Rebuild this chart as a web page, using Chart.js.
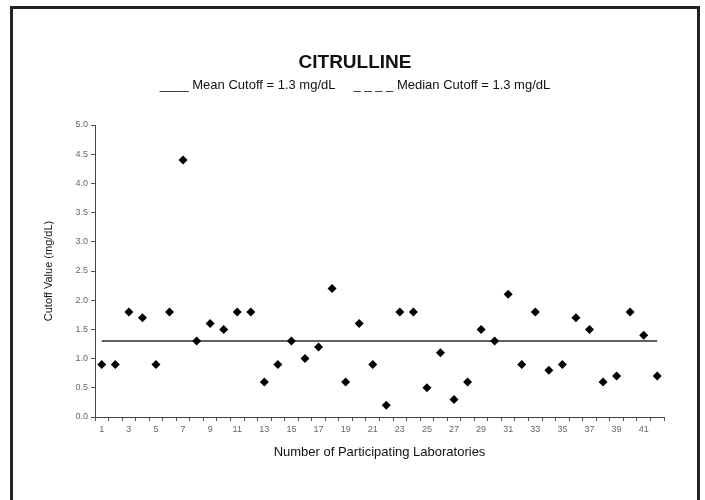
<!DOCTYPE html>
<html>
<head>
<meta charset="utf-8">
<script src="https://cdn.jsdelivr.net/npm/chart.js@4.4.0/dist/chart.umd.min.js"></script>
<style>
  html, body { margin: 0; padding: 0; background: #fff; }
  #wrap { position: relative; width: 705px; height: 500px; overflow: hidden; }
  #c { position: absolute; left: 0; top: 0; }
  #frame { position: absolute; left: 10px; top: 6px; width: 690px; height: 520px;
           box-sizing: border-box; border: 3px solid #232323; pointer-events: none; }
</style>
</head>
<body>
<div id="wrap">
  <canvas id="c" width="705" height="500"></canvas>
  <div id="frame"></div>
</div>
<script>
const chartTitle = 'CITRULLINE';
const legendText = '____ Mean Cutoff = 1.3 mg/dL     _ _ _ _ Median Cutoff = 1.3 mg/dL';
const xAxisTitle = 'Number of Participating Laboratories';
const yAxisTitle = 'Cutoff Value (mg/dL)';

const labs = ['1','2','3','4','5','6','7','8','9','10','11','12','13','14','15','16','17','18','19','20','21','22','23','24','25','26','27','28','29','30','31','32','33','34','35','36','37','38','39','40','41','42'];
const cutoffValues = [0.9,0.9,1.8,1.7,0.9,1.8,4.4,1.3,1.6,1.5,1.8,1.8,0.6,0.9,1.3,1.0,1.2,2.2,0.6,1.6,0.9,0.2,1.8,1.8,0.5,1.1,0.3,0.6,1.5,1.3,2.1,0.9,1.8,0.8,0.9,1.7,1.5,0.6,0.7,1.8,1.4,0.7];
const meanCutoff = 1.3;
const yMin = 0, yMax = 5, yStep = 0.5;

const FONT = '"Liberation Sans", Arial, sans-serif';

const headerPlugin = {
  id: 'header',
  afterDraw(chart) {
    const ctx = chart.ctx;
    ctx.save();
    ctx.fillStyle = '#111';
    ctx.textAlign = 'center';
    ctx.textBaseline = 'middle';
    ctx.font = 'bold 19px ' + FONT;
    ctx.fillText(chartTitle, 355, 63);
    ctx.font = '13px ' + FONT;
    ctx.fillText(legendText, 355, 85);
    ctx.restore();
  }
};

new Chart(document.getElementById('c'), {
  data: {
    labels: labs,
    datasets: [
      {
        type: 'line',
        label: 'Mean Cutoff',
        data: [{x: labs[0], y: meanCutoff}, {x: labs[labs.length - 1], y: meanCutoff}],
        borderColor: '#2a2a2a',
        borderWidth: 1.5,
        pointRadius: 0,
        fill: false,
        order: 2
      },
      {
        type: 'scatter',
        label: 'Cutoff Value',
        data: cutoffValues,
        pointStyle: 'rectRot',
        pointRadius: 4.5,
        backgroundColor: '#000',
        borderColor: '#000',
        borderWidth: 0,
        showLine: false,
        order: 1
      }
    ]
  },
  plugins: [headerPlugin],
  options: {
    responsive: false,
    animation: false,
    layout: { padding: { left: 38, right: 41, top: 125, bottom: 36 } },
    plugins: { legend: { display: false }, tooltip: { enabled: false }, title: { display: false } },
    scales: {
      x: {
        type: 'category',
        offset: true,
        grid: { display: true, offset: true, drawOnChartArea: false, drawTicks: true, tickLength: 4, color: '#555', tickColor: '#555' },
        border: { display: true, color: '#444', width: 1 },
        ticks: {
          autoSkip: false, maxRotation: 0, minRotation: 0,
          color: '#666', font: { family: FONT, size: 9 }, padding: 3,
          callback: function(val, idx) { return idx % 2 === 0 ? this.getLabelForValue(val) : ''; }
        },
        title: { display: true, text: xAxisTitle, color: '#111', font: { family: FONT, size: 13 }, padding: { top: 0, bottom: 4 } },
        afterFit(s) { s.height = 47; }
      },
      y: {
        type: 'linear',
        min: yMin, max: yMax,
        grid: { display: true, drawOnChartArea: false, drawTicks: true, tickLength: 4, color: '#555', tickColor: '#555' },
        border: { display: true, color: '#444', width: 1 },
        ticks: {
          stepSize: yStep, color: '#666', font: { family: FONT, size: 9 }, padding: 3,
          callback: v => Number(v).toFixed(1)
        },
        title: { display: true, text: yAxisTitle, color: '#111', font: { family: FONT, size: 11 }, padding: { top: 4, bottom: 0 } },
        afterFit(s) { s.width = 57; }
      }
    }
  }
});
</script>
</body>
</html>
